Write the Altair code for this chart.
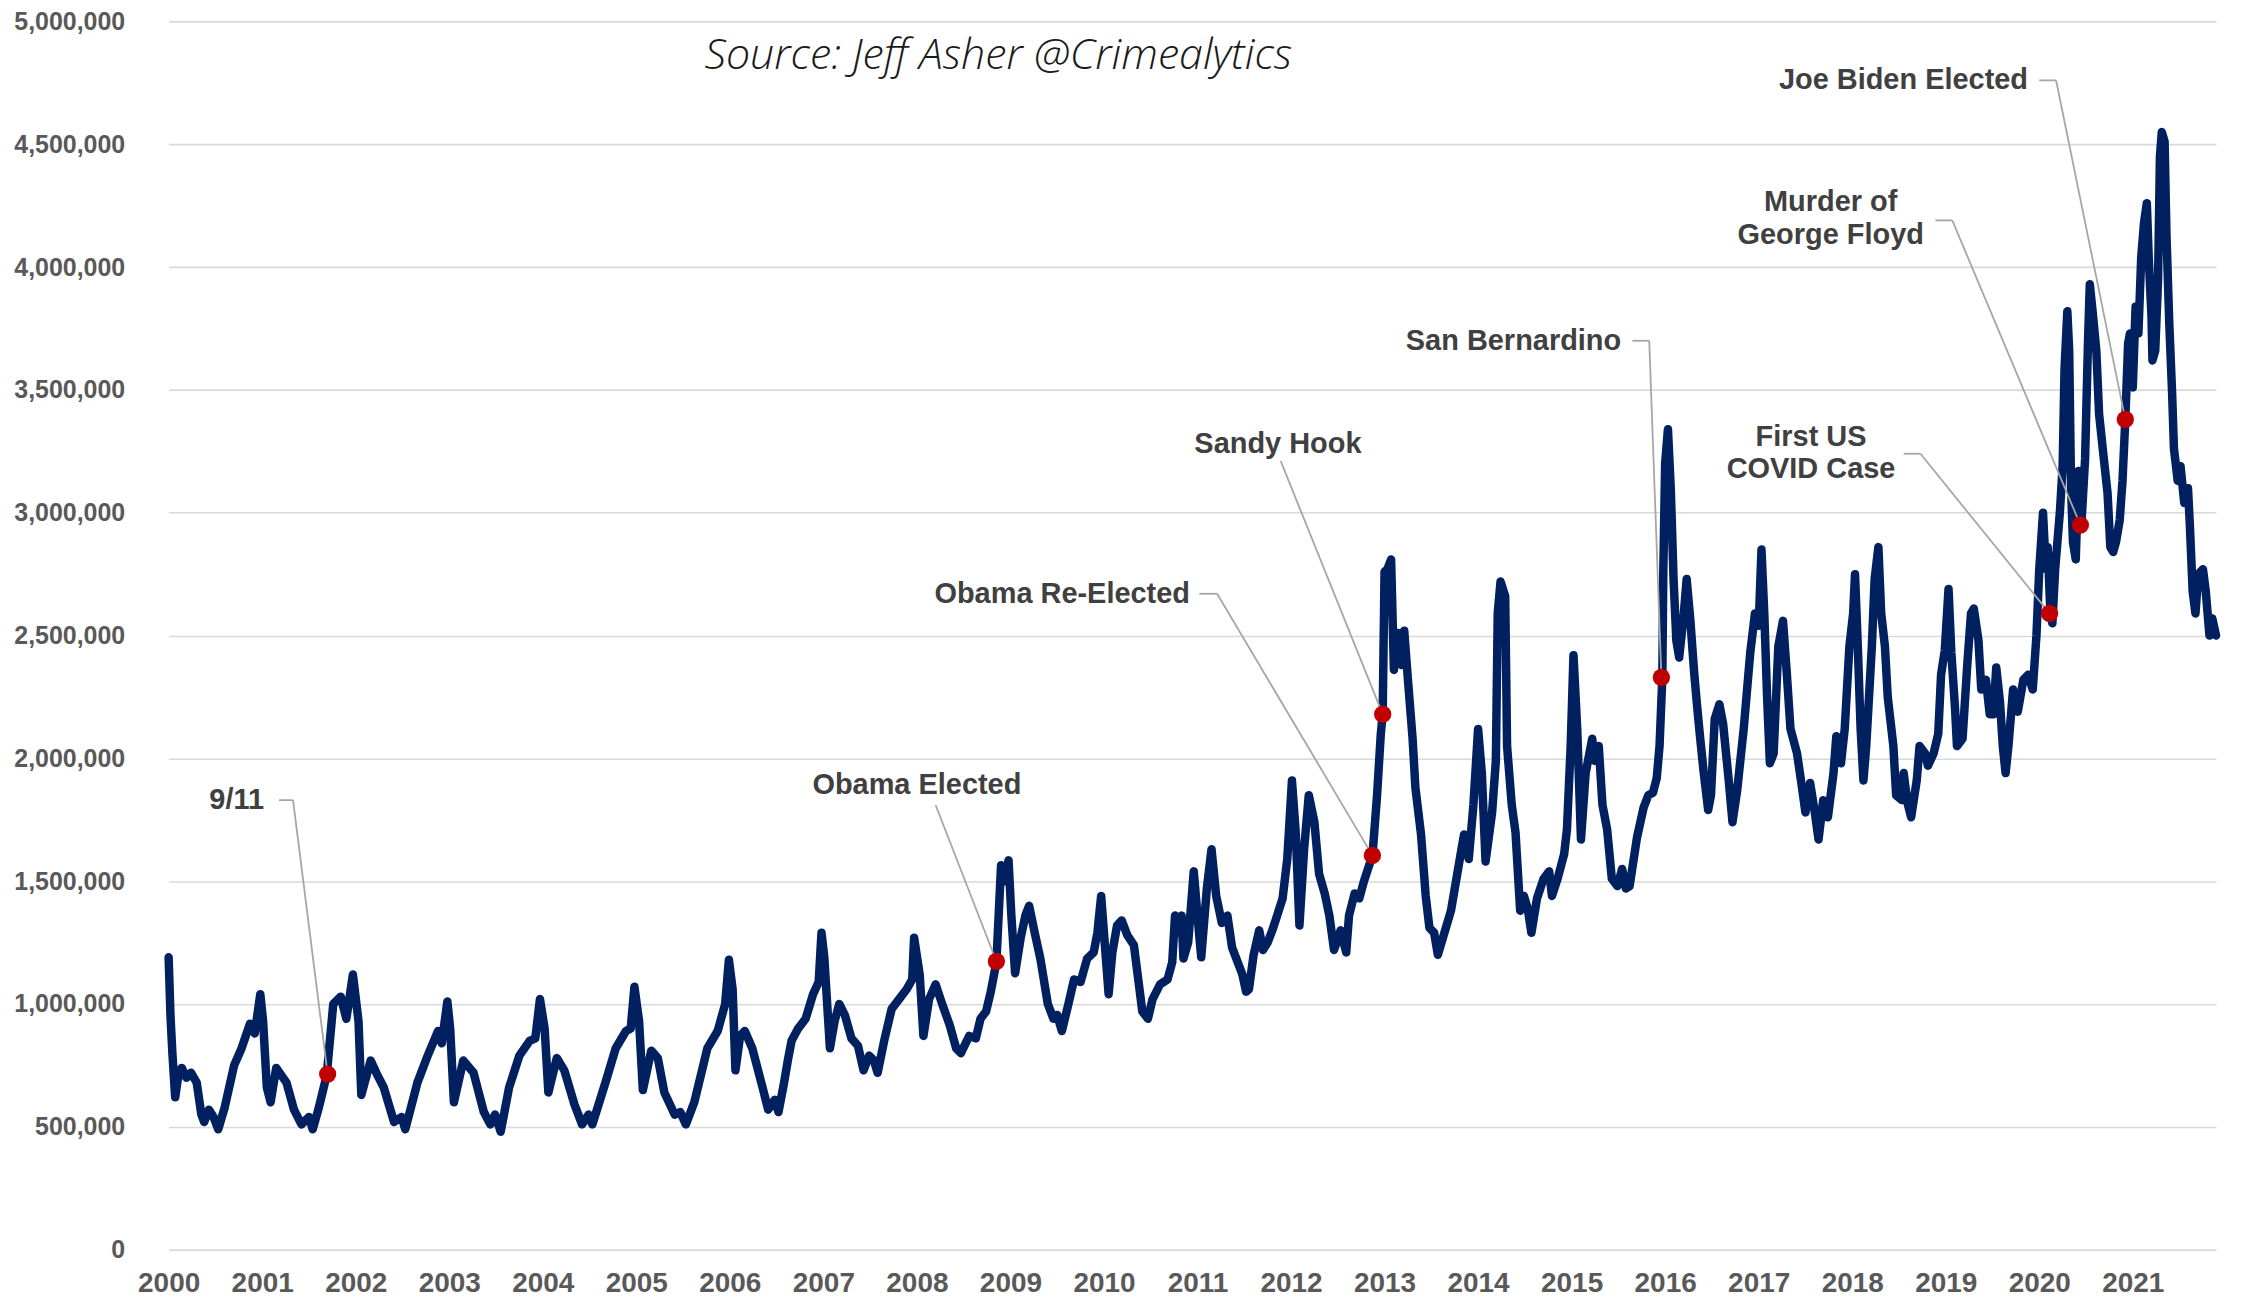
import altair as alt
import pandas as pd

# ---- main series: fractional year and value (millions) ----
YEARS = [
    2000.00, 2000.02, 2000.04, 2000.07, 2000.10, 2000.14, 2000.19, 2000.24, 2000.30, 2000.35,
    2000.38, 2000.43, 2000.48, 2000.53, 2000.60, 2000.70, 2000.78, 2000.87, 2000.92, 2000.98,
    2001.01, 2001.05, 2001.09, 2001.15, 2001.26, 2001.34, 2001.42, 2001.50, 2001.54, 2001.60,
    2001.69, 2001.76, 2001.84, 2001.90, 2001.97, 2002.03, 2002.06, 2002.16, 2002.22, 2002.30,
    2002.41, 2002.49, 2002.53, 2002.66, 2002.77, 2002.88, 2002.92, 2002.98, 2003.01, 2003.05,
    2003.15, 2003.26, 2003.37, 2003.44, 2003.49, 2003.55, 2003.64, 2003.75, 2003.86, 2003.92,
    2003.97, 2004.02, 2004.06, 2004.15, 2004.23, 2004.34, 2004.42, 2004.49, 2004.53, 2004.67,
    2004.78, 2004.89, 2004.94, 2004.98, 2005.03, 2005.07, 2005.16, 2005.23, 2005.30, 2005.41,
    2005.47, 2005.53, 2005.62, 2005.76, 2005.87, 2005.95, 2005.99, 2006.03, 2006.06, 2006.11,
    2006.16, 2006.24, 2006.35, 2006.41, 2006.48, 2006.52, 2006.58, 2006.62, 2006.66, 2006.73,
    2006.81, 2006.89, 2006.95, 2006.98, 2007.01, 2007.07, 2007.12, 2007.17, 2007.23, 2007.30,
    2007.37, 2007.43, 2007.49, 2007.54, 2007.58, 2007.65, 2007.73, 2007.81, 2007.89, 2007.95,
    2007.97, 2008.03, 2008.07, 2008.13, 2008.20, 2008.27, 2008.35, 2008.42, 2008.47, 2008.56,
    2008.63, 2008.68, 2008.74, 2008.79, 2008.85, 2008.90, 2008.94, 2008.98, 2009.01, 2009.05,
    2009.11, 2009.16, 2009.20, 2009.26, 2009.32, 2009.40, 2009.46, 2009.50, 2009.55, 2009.62,
    2009.68, 2009.75, 2009.82, 2009.89, 2009.93, 2009.97, 2010.01, 2010.05, 2010.09, 2010.14,
    2010.19, 2010.25, 2010.32, 2010.36, 2010.41, 2010.47, 2010.52, 2010.60, 2010.68, 2010.73,
    2010.76, 2010.80, 2010.83, 2010.85, 2010.90, 2010.96, 2011.00, 2011.04, 2011.10, 2011.15,
    2011.20, 2011.26, 2011.32, 2011.37, 2011.43, 2011.48, 2011.52, 2011.55, 2011.60, 2011.66,
    2011.70, 2011.75, 2011.80, 2011.86, 2011.91, 2011.96, 2012.01, 2012.05, 2012.09, 2012.14,
    2012.19, 2012.25, 2012.30, 2012.36, 2012.41, 2012.46, 2012.53, 2012.59, 2012.62, 2012.68,
    2012.73, 2012.78, 2012.84, 2012.87, 2012.92, 2012.96, 2012.98, 2013.00, 2013.03, 2013.07,
    2013.10, 2013.14, 2013.18, 2013.21, 2013.25, 2013.30, 2013.33, 2013.39, 2013.44, 2013.48,
    2013.53, 2013.57, 2013.64, 2013.71, 2013.80, 2013.85, 2013.90, 2013.95, 2014.00, 2014.04,
    2014.08, 2014.15, 2014.19, 2014.21, 2014.24, 2014.29, 2014.31, 2014.36, 2014.40, 2014.45,
    2014.49, 2014.53, 2014.57, 2014.63, 2014.70, 2014.76, 2014.79, 2014.85, 2014.92, 2014.95,
    2014.99, 2015.02, 2015.06, 2015.10, 2015.15, 2015.22, 2015.25, 2015.29, 2015.33, 2015.38,
    2015.43, 2015.49, 2015.54, 2015.58, 2015.62, 2015.70, 2015.77, 2015.82, 2015.87, 2015.91,
    2015.94, 2015.97, 2015.98, 2016.00, 2016.03, 2016.06, 2016.09, 2016.12, 2016.15, 2016.20,
    2016.23, 2016.27, 2016.31, 2016.34, 2016.37, 2016.41, 2016.46, 2016.49, 2016.53, 2016.58,
    2016.62, 2016.68, 2016.72, 2016.77, 2016.84, 2016.91, 2016.96, 2017.00, 2017.03, 2017.06,
    2017.09, 2017.12, 2017.16, 2017.21, 2017.26, 2017.30, 2017.34, 2017.41, 2017.46, 2017.50,
    2017.55, 2017.60, 2017.64, 2017.69, 2017.74, 2017.80, 2017.83, 2017.88, 2017.92, 2017.97,
    2018.01, 2018.03, 2018.06, 2018.09, 2018.12, 2018.15, 2018.21, 2018.24, 2018.28, 2018.31,
    2018.35, 2018.38, 2018.44, 2018.47, 2018.53, 2018.55, 2018.59, 2018.63, 2018.69, 2018.72,
    2018.78, 2018.81, 2018.87, 2018.92, 2018.95, 2018.99, 2019.03, 2019.06, 2019.10, 2019.12,
    2019.18, 2019.23, 2019.27, 2019.30, 2019.35, 2019.38, 2019.43, 2019.47, 2019.51, 2019.54,
    2019.58, 2019.61, 2019.64, 2019.67, 2019.72, 2019.77, 2019.83, 2019.88, 2019.93, 2019.97,
    2020.00, 2020.04, 2020.07, 2020.09, 2020.12, 2020.14, 2020.17, 2020.22, 2020.25, 2020.27,
    2020.30, 2020.32, 2020.34, 2020.36, 2020.39, 2020.42, 2020.45, 2020.49, 2020.52, 2020.54,
    2020.57, 2020.61, 2020.64, 2020.69, 2020.73, 2020.76, 2020.79, 2020.82, 2020.86, 2020.89,
    2020.92, 2020.95, 2020.97, 2021.00, 2021.03, 2021.06, 2021.09, 2021.12, 2021.15, 2021.17,
    2021.20, 2021.21, 2021.24, 2021.27, 2021.29, 2021.31, 2021.34, 2021.36, 2021.39, 2021.42,
    2021.44, 2021.48, 2021.51, 2021.55, 2021.59, 2021.61, 2021.64, 2021.67, 2021.70, 2021.75,
    2021.78, 2021.82, 2021.85, 2021.89,
]

CHECKS_M = [
    1.19, 0.95, 0.80, 0.62, 0.70, 0.74, 0.70, 0.72, 0.68, 0.55,
    0.52, 0.57, 0.54, 0.49, 0.58, 0.75, 0.82, 0.92, 0.88, 1.04,
    0.93, 0.66, 0.60, 0.74, 0.68, 0.57, 0.51, 0.54, 0.49, 0.57,
    0.71, 1.00, 1.03, 0.94, 1.12, 0.93, 0.63, 0.77, 0.72, 0.66,
    0.52, 0.54, 0.49, 0.68, 0.79, 0.89, 0.84, 1.01, 0.90, 0.60,
    0.77, 0.72, 0.56, 0.51, 0.55, 0.48, 0.66, 0.79, 0.85, 0.86,
    1.02, 0.90, 0.64, 0.78, 0.73, 0.59, 0.51, 0.55, 0.51, 0.68,
    0.82, 0.89, 0.90, 1.07, 0.93, 0.65, 0.81, 0.78, 0.64, 0.55,
    0.56, 0.51, 0.60, 0.82, 0.89, 1.00, 1.18, 1.06, 0.73, 0.87,
    0.89, 0.82, 0.66, 0.57, 0.61, 0.56, 0.68, 0.77, 0.85, 0.90,
    0.94, 1.04, 1.09, 1.29, 1.19, 0.82, 0.93, 1.00, 0.955, 0.86,
    0.83, 0.73, 0.79, 0.77, 0.72, 0.85, 0.98, 1.02, 1.06, 1.10,
    1.27, 1.12, 0.87, 1.02, 1.08, 1.00, 0.915, 0.82, 0.80, 0.87,
    0.86, 0.94, 0.97, 1.05, 1.17, 1.565, 1.50, 1.585, 1.36, 1.125,
    1.27, 1.36, 1.40, 1.29, 1.185, 1.00, 0.94, 0.955, 0.89, 1.00,
    1.10, 1.09, 1.185, 1.21, 1.29, 1.44, 1.24, 1.04, 1.21, 1.32,
    1.34, 1.28, 1.24, 1.12, 0.97, 0.94, 1.02, 1.08, 1.10, 1.17,
    1.36, 1.29, 1.36, 1.185, 1.25, 1.54, 1.36, 1.19, 1.47, 1.63,
    1.44, 1.33, 1.36, 1.23, 1.17, 1.12, 1.05, 1.06, 1.20, 1.30,
    1.22, 1.25, 1.30, 1.37, 1.43, 1.59, 1.91, 1.70, 1.32, 1.63,
    1.85, 1.74, 1.53, 1.45, 1.36, 1.22, 1.30, 1.21, 1.36, 1.45,
    1.43, 1.50, 1.57, 1.60, 1.85, 2.10, 2.18, 2.76, 2.77, 2.81,
    2.36, 2.51, 2.38, 2.52, 2.32, 2.08, 1.88, 1.69, 1.44, 1.31,
    1.29, 1.20, 1.29, 1.38, 1.58, 1.69, 1.59, 1.81, 2.12, 1.94,
    1.58, 1.78, 1.99, 2.59, 2.72, 2.66, 2.05, 1.81, 1.70, 1.38,
    1.44, 1.39, 1.29, 1.43, 1.51, 1.54, 1.44, 1.51, 1.61, 1.71,
    2.05, 2.42, 2.12, 1.67, 1.94, 2.08, 1.99, 2.05, 1.81, 1.71,
    1.51, 1.48, 1.55, 1.47, 1.48, 1.68, 1.80, 1.85, 1.86, 1.92,
    2.05, 2.33, 2.75, 3.20, 3.34, 3.10, 2.73, 2.48, 2.41, 2.59,
    2.73, 2.56, 2.35, 2.22, 2.10, 1.95, 1.79, 1.85, 2.16, 2.22,
    2.14, 1.91, 1.74, 1.87, 2.12, 2.43, 2.59, 2.54, 2.85, 2.59,
    2.25, 1.98, 2.02, 2.455, 2.56, 2.35, 2.12, 2.02, 1.89, 1.78,
    1.90, 1.78, 1.67, 1.83, 1.76, 1.94, 2.09, 1.98, 2.12, 2.455,
    2.59, 2.75, 2.455, 2.12, 1.91, 2.05, 2.455, 2.73, 2.86, 2.59,
    2.455, 2.25, 2.05, 1.85, 1.83, 1.94, 1.82, 1.76, 1.91, 2.05,
    2.02, 1.97, 2.02, 2.10, 2.34, 2.44, 2.69, 2.43, 2.20, 2.05,
    2.08, 2.38, 2.59, 2.61, 2.48, 2.28, 2.32, 2.18, 2.18, 2.37,
    2.23, 2.05, 1.94, 2.05, 2.28, 2.19, 2.32, 2.34, 2.28, 2.50,
    2.77, 3.00, 2.77, 2.86, 2.585, 2.55, 2.77, 3.00, 3.19, 3.585,
    3.82, 3.66, 3.10, 2.88, 2.81, 3.17, 2.95, 3.22, 3.68, 3.93,
    3.82, 3.66, 3.40, 3.22, 3.08, 2.86, 2.84, 2.88, 2.97, 3.13,
    3.38, 3.69, 3.73, 3.51, 3.84, 3.73, 4.04, 4.18, 4.26, 4.04,
    3.80, 3.62, 3.66, 3.95, 4.45, 4.55, 4.51, 4.13, 3.77, 3.49,
    3.26, 3.13, 3.19, 3.04, 3.10, 2.95, 2.68, 2.59, 2.75, 2.77,
    2.68, 2.50, 2.57, 2.50,
]

# ---- events (red dots) ----
EVENT_NAMES = ["9/11", "Obama Elected", "Obama Re-Elected", "Sandy Hook",
               "San Bernardino", "First US COVID Case", "Murder of George Floyd",
               "Joe Biden Elected"]
EVENT_YEAR = [2001.70, 2008.85, 2012.87, 2012.98, 2015.96, 2020.11, 2020.44, 2020.92]
EVENT_VALUE_M = [0.715, 1.174, 1.605, 2.18, 2.33, 2.59, 2.95, 3.38]

# ---- annotation labels ----
RIGHT_LABELS = ["9/11", "Obama Re-Elected", "San Bernardino", "Joe Biden Elected"]
RIGHT_LABEL_YEAR = [2001.02, 2010.92, 2015.53, 2019.88]
RIGHT_LABEL_VALUE_M = [1.83, 2.67, 3.70, 4.76]

# first-line anchor of each (possibly two-line) centred label
CENTER_LABELS = ["Obama Elected", "Sandy Hook", "First US\nCOVID Case", "Murder of\nGeorge Floyd"]
CENTER_LABEL_YEAR = [2008.00, 2011.86, 2017.56, 2017.77]
CENTER_LABEL_VALUE_M = [1.89, 3.28, 3.31, 4.265]

# connector segments (start -> end), in data units
SEG_X1 = [2001.18, 2001.33, 2008.20, 2011.02, 2011.21, 2011.89, 2015.65, 2015.83,
          2018.55, 2018.73, 2018.89, 2019.07, 2020.00, 2020.18]
SEG_Y1_M = [1.83, 1.83, 1.81, 2.67, 2.67, 3.21, 3.70, 3.70,
            3.24, 3.24, 4.19, 4.19, 4.76, 4.76]
SEG_X2 = [2001.33, 2001.70, 2008.85, 2011.21, 2012.87, 2012.98, 2015.83, 2015.96,
          2018.73, 2020.11, 2019.07, 2020.44, 2020.18, 2020.92]
SEG_Y2_M = [1.83, 0.715, 1.174, 2.67, 1.605, 2.18, 3.70, 2.33,
            3.24, 2.59, 4.19, 2.95, 4.76, 3.38]

SOURCE_TEXT = "Source: Jeff Asher @Crimealytics"
SOURCE_YEAR = 2008.87
SOURCE_VALUE_M = 4.86

Y_TICKS = [0, 500000, 1000000, 1500000, 2000000, 2500000, 3000000, 3500000,
           4000000, 4500000, 5000000]
X_TICKS = list(range(2000, 2022))

M = 1_000_000
series = pd.DataFrame({"year": YEARS, "checks": [v * M for v in CHECKS_M]})
events = pd.DataFrame({"name": EVENT_NAMES, "year": EVENT_YEAR,
                       "checks": [v * M for v in EVENT_VALUE_M]})
right_lab = pd.DataFrame({"t": RIGHT_LABELS, "year": RIGHT_LABEL_YEAR,
                          "checks": [v * M for v in RIGHT_LABEL_VALUE_M]})
center_lab = pd.DataFrame({"t": CENTER_LABELS, "year": CENTER_LABEL_YEAR,
                           "checks": [v * M for v in CENTER_LABEL_VALUE_M]})
segs = pd.DataFrame({"x1": SEG_X1, "y1": [v * M for v in SEG_Y1_M],
                     "x2": SEG_X2, "y2": [v * M for v in SEG_Y2_M]})
source = pd.DataFrame({"t": [SOURCE_TEXT], "year": [SOURCE_YEAR],
                       "checks": [SOURCE_VALUE_M * M]})

XDOM = [2000, 2021.89]
x_scale = alt.Scale(domain=XDOM, nice=False, zero=False)
y_scale = alt.Scale(domain=[0, 5 * M], nice=False)

LABEL_FONT = "Liberation Sans, Arial, sans-serif"

x_axis = alt.Axis(values=X_TICKS, format="d", title=None, grid=False, domain=False,
                  ticks=False, labelFont=LABEL_FONT, labelFontSize=28,
                  labelFontWeight="bold", labelColor="#595959", labelPadding=20,
                  labelOverlap=False, labelFlush=False)
y_axis = alt.Axis(values=Y_TICKS, format=",d", title=None, grid=True, domain=False,
                  ticks=False, labelFont=LABEL_FONT, labelFontSize=25,
                  labelFontWeight="bold", labelColor="#595959", labelPadding=44,
                  gridColor="#d9d9d9", gridWidth=1.6)

line = alt.Chart(series).mark_line(color="#002060", strokeWidth=8.5,
                                   strokeJoin="round", strokeCap="round").encode(
    x=alt.X("year:Q", scale=x_scale, axis=x_axis),
    y=alt.Y("checks:Q", scale=y_scale, axis=y_axis),
)

connectors = alt.Chart(segs).mark_rule(color="#a6a6a6", strokeWidth=1.8).encode(
    x=alt.X("x1:Q", scale=x_scale),
    y=alt.Y("y1:Q", scale=y_scale),
    x2="x2:Q",
    y2="y2:Q",
)

dots = alt.Chart(events).mark_circle(color="#c00000", opacity=1, size=300).encode(
    x=alt.X("year:Q", scale=x_scale),
    y=alt.Y("checks:Q", scale=y_scale),
)

txt_right = alt.Chart(right_lab).mark_text(
    align="right", baseline="middle", font=LABEL_FONT, fontSize=29,
    fontWeight="bold", color="#404040"
).encode(x=alt.X("year:Q", scale=x_scale), y=alt.Y("checks:Q", scale=y_scale), text="t:N")

txt_center = alt.Chart(center_lab).mark_text(
    align="center", baseline="middle", font=LABEL_FONT, fontSize=29,
    fontWeight="bold", color="#404040", lineBreak="\n", lineHeight=33
).encode(x=alt.X("year:Q", scale=x_scale), y=alt.Y("checks:Q", scale=y_scale), text="t:N")

txt_source = alt.Chart(source).mark_text(
    align="center", baseline="middle", font="Open Sans, sans-serif", fontSize=43,
    fontStyle="italic", fontWeight=300, color="#1a1a1a"
).encode(x=alt.X("year:Q", scale=x_scale), y=alt.Y("checks:Q", scale=y_scale), text="t:N")

chart = alt.layer(line, connectors, dots, txt_right, txt_center, txt_source).properties(
    width=2052, height=1231,
    autosize=alt.AutoSizeParams(type="none"),
    padding={"left": 161, "top": 12, "right": 20, "bottom": 48},
    background="white",
).configure_view(stroke=None)

chart.save("out.html", embed_options={"renderer": "svg", "actions": False})
